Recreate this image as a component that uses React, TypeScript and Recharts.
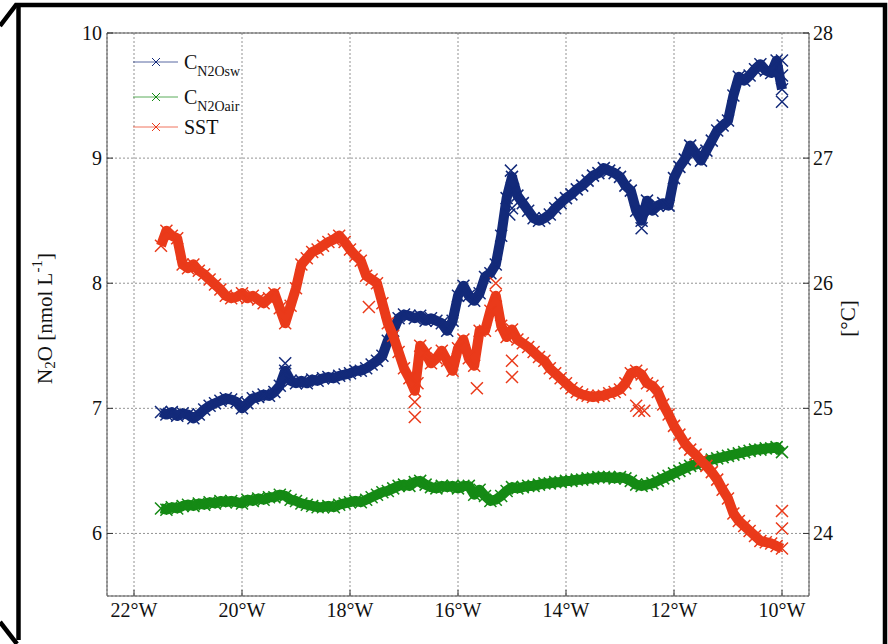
import React from 'react'
import {
  ScatterChart,
  Scatter,
  XAxis,
  YAxis,
  CartesianGrid,
  ReferenceLine,
  Legend,
} from 'recharts'

const FONT = 'Liberation Serif'

// longitude (negative = west), shared by the three tracks
const lon = [
  -21.5, -21.4, -21.3, -21.2, -21.1, -21.0, -20.9, -20.8, -20.7, -20.6,
  -20.5, -20.4, -20.3, -20.2, -20.1, -20.0, -19.9, -19.8, -19.7, -19.6,
  -19.5, -19.4, -19.3, -19.2, -19.1, -19.0, -18.9, -18.8, -18.7, -18.6,
  -18.5, -18.4, -18.3, -18.2, -18.1, -18.0, -17.9, -17.8, -17.7, -17.6,
  -17.5, -17.4, -17.3, -17.2, -17.1, -17.0, -16.9, -16.8, -16.7, -16.6,
  -16.5, -16.4, -16.3, -16.2, -16.1, -16.0, -15.9, -15.8, -15.7, -15.6,
  -15.5, -15.4, -15.3, -15.2, -15.1, -15.0, -14.9, -14.8, -14.7, -14.6,
  -14.5, -14.4, -14.3, -14.2, -14.1, -14.0, -13.9, -13.8, -13.7, -13.6,
  -13.5, -13.4, -13.3, -13.2, -13.1, -13.0, -12.9, -12.8, -12.7, -12.6,
  -12.5, -12.4, -12.3, -12.2, -12.1, -12.0, -11.9, -11.8, -11.7, -11.6,
  -11.5, -11.4, -11.3, -11.2, -11.1, -11.0, -10.9, -10.8, -10.7, -10.6,
  -10.5, -10.4, -10.3, -10.2, -10.1, -10.0,
]

// C N2O sw [nmol L-1]
const n2oSw = [
  6.97, 6.95, 6.97, 6.94, 6.96, 6.95, 6.92, 6.95, 6.99, 7.02,
  7.04, 7.06, 7.08, 7.07, 7.05, 7.0, 7.04, 7.08, 7.09, 7.11,
  7.1, 7.13, 7.18, 7.3, 7.22, 7.2, 7.22, 7.2, 7.23, 7.22,
  7.24, 7.25, 7.24, 7.26, 7.27, 7.28, 7.3, 7.3, 7.32, 7.35,
  7.38, 7.42, 7.54, 7.62, 7.72, 7.75, 7.74, 7.72, 7.74, 7.7,
  7.72, 7.7, 7.68, 7.62, 7.7, 7.9, 7.98, 7.9, 7.86, 7.92,
  8.05, 8.08, 8.15, 8.38, 8.68, 8.85, 8.7, 8.64, 8.58, 8.52,
  8.5, 8.52, 8.55, 8.6, 8.64, 8.68, 8.71, 8.75, 8.78, 8.82,
  8.86, 8.88, 8.92, 8.9, 8.88, 8.85, 8.78, 8.74, 8.58, 8.5,
  8.66, 8.58, 8.62, 8.64, 8.62, 8.84, 8.93, 8.99, 9.1, 9.04,
  8.98, 9.06, 9.14, 9.22, 9.26, 9.3, 9.5, 9.65, 9.62, 9.66,
  9.71, 9.75, 9.7, 9.68, 9.78, 9.55,
]
const n2oSwExtraLon = [-19.2, -15.05, -15.02, -15.0, -14.98, -12.6, -10.0, -10.0, -10.0]
const n2oSwExtraVal = [7.36, 8.55, 8.9, 8.6, 8.75, 8.44, 9.78, 9.66, 9.45]

// C N2O air [nmol L-1]
const n2oAir = [
  6.2, 6.19, 6.21, 6.2, 6.22, 6.23, 6.22, 6.24, 6.23, 6.25,
  6.24, 6.26, 6.25, 6.26, 6.25, 6.24, 6.27, 6.26, 6.28, 6.27,
  6.29, 6.29, 6.31, 6.3, 6.27, 6.26, 6.24, 6.23, 6.22, 6.21,
  6.21, 6.22, 6.21, 6.23, 6.24, 6.25, 6.26, 6.25, 6.27, 6.29,
  6.31, 6.33, 6.34, 6.36, 6.38, 6.39, 6.38, 6.41, 6.42, 6.39,
  6.37, 6.36, 6.38, 6.37, 6.38, 6.36, 6.38, 6.38, 6.31, 6.35,
  6.3, 6.26, 6.27, 6.3, 6.34, 6.37, 6.36, 6.37, 6.38, 6.38,
  6.39, 6.4, 6.4, 6.41, 6.41, 6.42, 6.42, 6.43, 6.43, 6.44,
  6.44, 6.45, 6.45, 6.45, 6.44, 6.45, 6.44, 6.42, 6.39, 6.38,
  6.39, 6.4, 6.42, 6.44, 6.46, 6.48, 6.5, 6.52, 6.54, 6.55,
  6.57, 6.58, 6.59, 6.6, 6.61, 6.62, 6.63, 6.64, 6.65, 6.66,
  6.67, 6.67, 6.68, 6.68, 6.69, 6.65,
]

// SST [°C]
const sst = [
  26.3, 26.42, 26.38, 26.36, 26.15, 26.12, 26.15, 26.1, 26.07, 26.03,
  25.99, 25.95, 25.9, 25.88, 25.89, 25.92, 25.88, 25.9, 25.87, 25.84,
  25.88, 25.92, 25.8, 25.68, 25.82, 25.96, 26.15, 26.2, 26.25, 26.27,
  26.3, 26.33, 26.35, 26.38, 26.33, 26.27, 26.22, 26.18, 26.06, 26.03,
  26.0, 25.84, 25.68, 25.58, 25.45, 25.32, 25.24, 25.14, 25.5, 25.44,
  25.36, 25.4, 25.46, 25.38, 25.3, 25.48, 25.55, 25.4, 25.34, 25.62,
  25.62, 25.78, 25.9, 25.66, 25.57, 25.63, 25.55, 25.52, 25.49, 25.45,
  25.41, 25.38, 25.32, 25.28, 25.24, 25.2, 25.16, 25.13, 25.11, 25.1,
  25.09, 25.1, 25.1, 25.12, 25.13, 25.15, 25.2, 25.28, 25.3, 25.27,
  25.2, 25.18, 25.13, 25.03, 24.95, 24.86, 24.79, 24.72, 24.67, 24.63,
  24.58, 24.54, 24.49, 24.43, 24.35, 24.28, 24.16, 24.1, 24.06, 24.02,
  23.98, 23.94, 23.93, 23.92, 23.9, 23.88,
]
const sstExtraLon = [-17.65, -16.8, -16.8, -16.75, -15.65, -15.3, -15.0, -15.0, -12.7, -12.65, -12.55, -10.0, -10.0]
const sstExtraVal = [25.81, 24.93, 25.05, 25.2, 25.16, 26.0, 25.38, 25.25, 25.02, 24.98, 24.98, 24.18, 24.04]

const xTicks = [-22, -20, -18, -16, -14, -12, -10]
const n2oTicks = [6, 7, 8, 9, 10]
const sstTicks = [24, 25, 26, 27, 28]

const BLUE = '#132a7a'
const GREEN = '#158a15'
const RED = '#ea3a1a'

const legendColors = [BLUE, GREEN, RED]
const legendMain = ['C', 'C', 'SST']
const legendSub = ['N2Osw', 'N2Oair', '']

const toPoints = (xs: number[], ys: number[]) => xs.map((x, i) => ({ x, y: ys[i] }))

const swData = toPoints(lon, n2oSw)
const swExtra = toPoints(n2oSwExtraLon, n2oSwExtraVal)
const airData = toPoints(lon, n2oAir)
const sstData = toPoints(lon, sst)
const sstExtra = toPoints(sstExtraLon, sstExtraVal)

const cross = (color: string) => (props: any) => {
  const { cx, cy } = props
  if (cx == null || cy == null) return <g />
  const s = 6
  return (
    <path
      d={`M${cx - s},${cy - s}L${cx + s},${cy + s}M${cx - s},${cy + s}L${cx + s},${cy - s}`}
      stroke={color}
      strokeWidth={1.5}
      fill="none"
    />
  )
}

const band = (color: string) => ({ stroke: color, strokeWidth: 10, strokeLinejoin: 'round' as const })

// serif tick text; anchor comes from the axis
const serifTick = (fmt: (v: number) => string, dy: string) => (props: any) => {
  const { x, y, payload, textAnchor } = props
  return (
    <text x={x} y={y} dy={dy} textAnchor={textAnchor} fontFamily={FONT} fontSize={20} fill="#111">
      {fmt(payload.value)}
    </text>
  )
}

const lonFmt = (v: number) => `${Math.abs(v)}°W`
const numFmt = (v: number) => `${v}`

function LegendBox() {
  return (
    <svg width={130} height={110} style={{ overflow: 'visible' }}>
      {legendColors.map((c, i) => {
        const y = [22, 57, 87][i]
        return (
          <g key={i}>
            <line x1={8} x2={53} y1={y} y2={y} stroke={c} strokeOpacity={0.7} strokeWidth={1} />
            <path d={`M27,${y - 4}L35,${y + 4}M27,${y + 4}L35,${y - 4}`} stroke={c} strokeWidth={1} />
            <text x={59} y={y + 7} fontFamily={FONT} fontSize={20} fill="#111">
              {legendMain[i]}
              {legendSub[i] && (
                <tspan fontSize={14} dy={7}>
                  {legendSub[i]}
                </tspan>
              )}
            </text>
          </g>
        )
      })}
    </svg>
  )
}

function LeftLabel({ viewBox }: any) {
  const cx = viewBox.x - 2
  const cy = viewBox.y + viewBox.height / 2 + 4
  return (
    <text
      x={cx}
      y={cy}
      transform={`rotate(-90, ${cx}, ${cy})`}
      textAnchor="middle"
      dominantBaseline="central"
      fontFamily={FONT}
      fontSize={21}
      fill="#111"
    >
      N<tspan fontSize={15} dy={5}>2</tspan>
      <tspan dy={-5}>O [nmol L</tspan>
      <tspan fontSize={15} dy={-8}>-1</tspan>
      <tspan dy={8}>]</tspan>
    </text>
  )
}

function RightLabel({ viewBox }: any) {
  const cx = viewBox.x + viewBox.width - 21
  const cy = viewBox.y + viewBox.height / 2 + 4
  return (
    <text
      x={cx}
      y={cy}
      transform={`rotate(-90, ${cx}, ${cy})`}
      textAnchor="middle"
      dominantBaseline="central"
      fontFamily={FONT}
      fontSize={21}
      fill="#111"
    >
      [°C]
    </text>
  )
}

export default function App() {
  const tickLine = { stroke: '#333' }
  return (
    <div style={{ position: 'absolute', left: 0, top: 0, width: 888, height: 644, background: '#fff', fontFamily: FONT }}>
      <ScatterChart width={888} height={644} margin={{ top: 33, right: 19, bottom: 18, left: 47 }}>
        <CartesianGrid yAxisId="left" stroke="#777" strokeDasharray="2 2" strokeWidth={0.8} />
        <XAxis
          type="number"
          dataKey="x"
          domain={[-22.5, -9.5]}
          ticks={xTicks}
          allowDataOverflow
          tick={serifTick(lonFmt, '0.8em')}
          tickLine={tickLine}
          tickSize={-6}
          tickMargin={11}
          axisLine={{ stroke: '#555' }}
          height={30}
        />
        <YAxis
          yAxisId="left"
          type="number"
          dataKey="y"
          domain={[5.5, 10]}
          ticks={n2oTicks}
          allowDataOverflow
          tick={serifTick(numFmt, '0.33em')}
          tickLine={tickLine}
          tickSize={-6}
          tickMargin={11}
          axisLine={{ stroke: '#555' }}
          width={60}
          label={<LeftLabel />}
        />
        <YAxis
          yAxisId="right"
          orientation="right"
          type="number"
          dataKey="y"
          domain={[23.5, 28]}
          ticks={sstTicks}
          allowDataOverflow
          tick={serifTick(numFmt, '0.33em')}
          tickLine={tickLine}
          tickSize={-6}
          tickMargin={10}
          axisLine={{ stroke: '#555' }}
          width={60}
          label={<RightLabel />}
        />
        <ReferenceLine yAxisId="left" y={10} stroke="#555" />
        <Legend
          layout="vertical"
          align="center"
          verticalAlign="middle"
          content={<LegendBox />}
          wrapperStyle={{ position: 'absolute', left: 125, top: 40, width: 130, height: 110 }}
        />
        <Scatter name="CN2Osw" data={swData} yAxisId="left" fill={BLUE} line={band(BLUE)} shape={cross(BLUE)} isAnimationActive={false} />
        <Scatter name="CN2Osw extra" data={swExtra} yAxisId="left" fill={BLUE} shape={cross(BLUE)} legendType="none" isAnimationActive={false} />
        <Scatter name="CN2Oair" data={airData} yAxisId="left" fill={GREEN} line={band(GREEN)} shape={cross(GREEN)} isAnimationActive={false} />
        <Scatter name="SST" data={sstData} yAxisId="right" fill={RED} line={band(RED)} shape={cross(RED)} isAnimationActive={false} />
        <Scatter name="SST extra" data={sstExtra} yAxisId="right" fill={RED} shape={cross(RED)} legendType="none" isAnimationActive={false} />
      </ScatterChart>
      <svg width={888} height={644} style={{ position: 'absolute', left: 0, top: 0, pointerEvents: 'none' }}>
        <polyline points="0,26 16,5 885,5 885,644" fill="none" stroke="#000" strokeWidth={4.5} />
        <line x1={18.5} y1={5} x2={18.5} y2={640} stroke="#000" strokeWidth={4.5} />
        <line x1={0} y1={622} x2={17} y2={644} stroke="#000" strokeWidth={4.5} />
      </svg>
    </div>
  )
}
